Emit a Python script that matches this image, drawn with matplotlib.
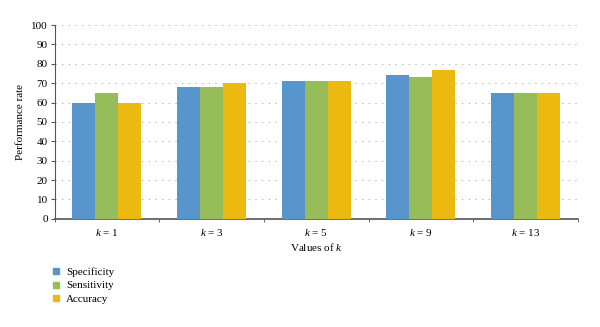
import numpy as np
import matplotlib.pyplot as plt
from matplotlib.lines import Line2D

categories = ['$k$ = 1', '$k$ = 3', '$k$ = 5', '$k$ = 9', '$k$ = 13']
specificity = [60, 68, 71, 74, 65]
sensitivity = [65, 68, 71, 73, 65]
accuracy = [60, 70, 71, 77, 65]
series_names = ['Specificity', 'Sensitivity', 'Accuracy']
colors = ['#5895CA', '#97BD5B', '#EBB910']

plt.rcParams['font.family'] = ['Liberation Serif', 'DejaVu Serif']
plt.rcParams['mathtext.fontset'] = 'custom'
plt.rcParams['mathtext.it'] = 'Liberation Serif:italic'
plt.rcParams['mathtext.rm'] = 'Liberation Serif'
plt.rcParams['font.size'] = 8

fig = plt.figure(figsize=(6, 3.27), dpi=100)
ax = fig.add_axes([0.091, 0.331, 0.872, 0.5925])

x = np.arange(len(categories))
w = 0.22
for i, (vals, name, c) in enumerate(zip([specificity, sensitivity, accuracy], series_names, colors)):
    ax.bar(x + (i - 1) * w, vals, w, color=c, label=name, zorder=3)

ax.set_xlim(-0.5, len(categories) - 0.5)
ax.set_ylim(0, 100)
ax.set_yticks(range(0, 101, 10))
ax.set_xticks(x)
ax.set_xticklabels(categories)
ax.set_xticks(np.arange(-0.5, len(categories), 1), minor=True)
ax.tick_params(axis='x', which='major', length=0, pad=6)
ax.tick_params(axis='x', which='minor', length=2.5, direction='out', color='#555555')
ax.tick_params(axis='y', length=3, direction='out', color='#555555', pad=2)
ax.yaxis.grid(True, linestyle=(0, (1, 5)), color='#aaaaaa', linewidth=0.8, zorder=0)

for s in ['top', 'right']:
    ax.spines[s].set_visible(False)
ax.spines['left'].set_color('#555555')
ax.spines['bottom'].set_color('#555555')
ax.spines['bottom'].set_linewidth(1.2)

ax.set_ylabel('Performance rate', labelpad=4)
ax.set_xlabel('Values of $k$', labelpad=2)

handles = [Line2D([], [], marker='s', linestyle='None', color=c, markersize=4.5) for c in colors]
fig.legend(handles, series_names, loc='upper left', bbox_to_anchor=(0.075, 0.197),
           frameon=False, handletextpad=0.3, labelspacing=0.35, handlelength=1.2, borderaxespad=0)

fig.savefig('out.png', dpi=100)
